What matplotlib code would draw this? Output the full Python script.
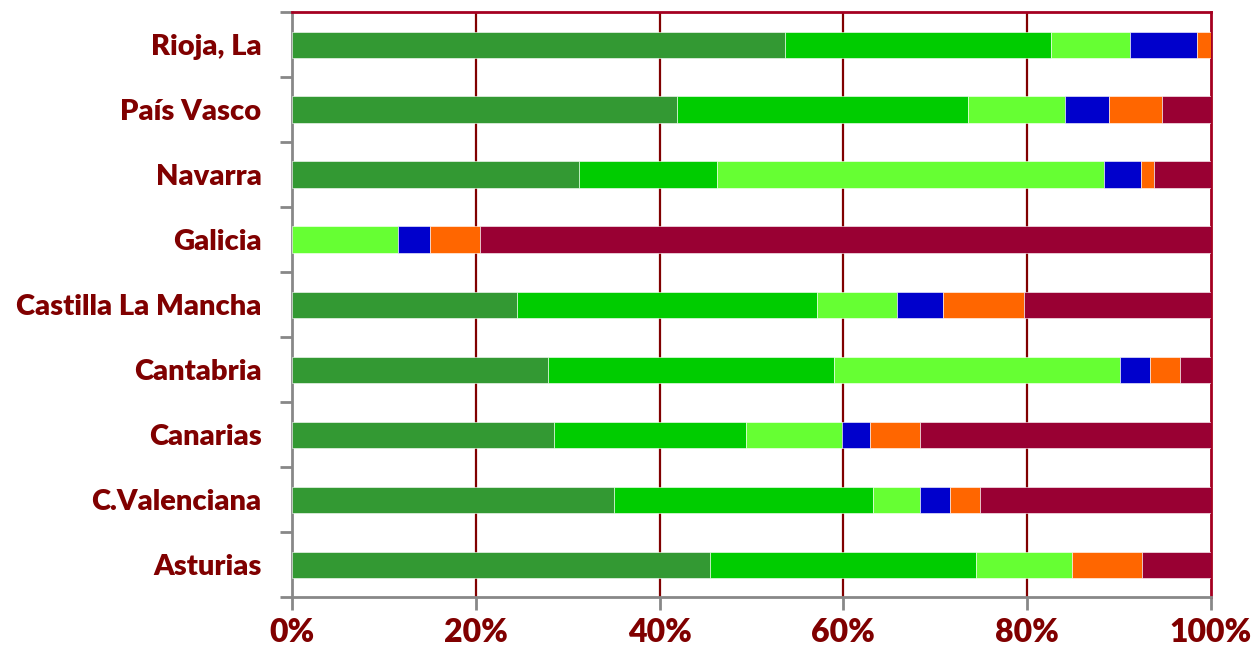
import numpy as np
import matplotlib
matplotlib.use("Agg")
from matplotlib import pyplot as plt
from matplotlib.ticker import FixedLocator

plt.rcParams['font.family'] = ['Lato', 'DejaVu Sans']

# regions, bottom to top
regions = ['Asturias', 'C.Valenciana', 'Canarias', 'Cantabria',
           'Castilla La Mancha', 'Galicia', 'Navarra', 'País Vasco', 'Rioja, La']

# shares in % for each series (six series, stacked)
s1 = [45.5, 35.0, 28.5, 27.9, 24.5, 0.0, 31.2, 41.9, 53.6]
s2 = [28.9, 28.2, 20.9, 31.1, 32.6, 0.0, 15.0, 31.7, 29.0]
s3 = [10.5, 5.1, 10.4, 31.1, 8.7, 11.5, 42.2, 10.5, 8.6]
s4 = [0.0, 3.3, 3.1, 3.3, 5.0, 3.5, 4.0, 4.8, 7.3]
s5 = [7.6, 3.3, 5.4, 3.2, 8.9, 5.5, 1.4, 5.8, 1.5]
s6 = [7.5, 25.1, 31.7, 3.4, 20.3, 79.5, 6.2, 5.3, 0.0]

series = [s1, s2, s3, s4, s5, s6]
colors = ['#339933', '#00CC00', '#66FF33', '#0000CC', '#FF6600', '#990033']

txt = '#800000'

fig = plt.figure(figsize=(12.57, 6.48), dpi=100)
ax = fig.add_axes([292/1257, 1 - 597/648, (1211-292)/1257, (597-12)/648])

y = np.arange(len(regions))
left = np.zeros(len(regions))
for vals, c in zip(series, colors):
    vals = np.array(vals)
    # no edge on empty segments
    lw = np.where(vals > 0, 0.4, 0.0)
    ax.barh(y, vals, left=left, height=0.4, color=c, edgecolor='white',
            linewidth=lw, zorder=3)
    left += vals

ax.set_xlim(0, 100)
ax.set_ylim(-0.5, len(regions) - 0.5)

# grid lines
for g in [20, 40, 60, 80]:
    ax.axvline(g, color='#800000', lw=1.6, zorder=1)

for s in ['top', 'right']:
    ax.spines[s].set_color('#A50021')
    ax.spines[s].set_linewidth(2)
for s in ['left', 'bottom']:
    ax.spines[s].set_color('#888888')
    ax.spines[s].set_linewidth(2)

ax.set_xticks([0, 20, 40, 60, 80, 100])
ax.set_xticklabels(['0%', '20%', '40%', '60%', '80%', '100%'])
ax.tick_params(axis='x', direction='out', length=9, width=2, color='#888888',
               labelsize=23, labelcolor=txt, pad=6)
for t in ax.get_xticklabels():
    t.set_fontweight('heavy')

# y: labels at category centres, tick marks at boundaries
ax.set_yticks(y)
ax.set_yticklabels(regions)
ax.tick_params(axis='y', which='major', length=0, labelsize=21,
               labelcolor=txt, pad=22)
for t in ax.get_yticklabels():
    t.set_fontweight('heavy')
ax.yaxis.set_minor_locator(FixedLocator(np.arange(-0.5, len(regions), 1.0)))
ax.tick_params(axis='y', which='minor', direction='out', length=9, width=2,
               color='#888888')

fig.savefig('out.png', dpi=100)
